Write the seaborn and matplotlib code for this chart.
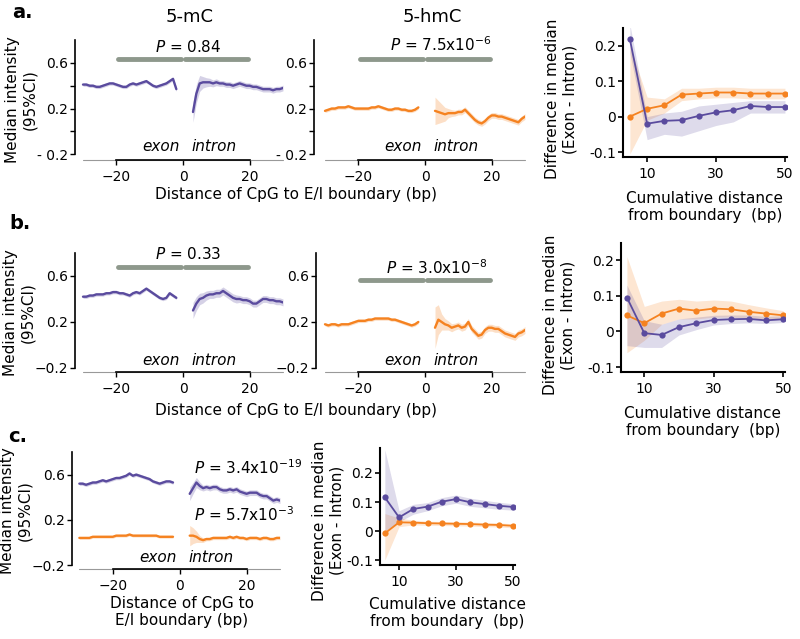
# Perfiles de 5-mC / 5-hmC alrededor de la frontera exón/intrón

import numpy as np
import matplotlib
matplotlib.use("Agg")
import matplotlib.pyplot as plt
import seaborn as sns

sns.set_style("ticks")
plt.rcParams["font.family"] = ["DejaVu Sans"]
plt.rcParams["mathtext.fontset"] = "dejavusans"
plt.rcParams["text.color"] = "black"
plt.rcParams["axes.labelcolor"] = "black"
plt.rcParams["axes.edgecolor"] = "black"
plt.rcParams["xtick.color"] = "black"
plt.rcParams["ytick.color"] = "black"

PURPLE = "#5a4b9e"
ORANGE = "#f58220"
GRAY = "#8e988c"

# Posiciones (bp)
exon_x = list(range(-30, -1))
intron_x = list(range(3, 31))
cum_x = [5, 10, 15, 20, 25, 30, 35, 40, 45, 50]

# ---- Panel a ----
a_mc_exon = [0.41, 0.41, 0.40, 0.40, 0.39, 0.39, 0.40, 0.41, 0.42, 0.42, 0.41, 0.40, 0.39, 0.39, 0.41,
             0.42, 0.41, 0.42, 0.43, 0.44, 0.42, 0.40, 0.39, 0.40, 0.41, 0.42, 0.44, 0.46, 0.37]
a_mc_exon_hw = [0.015, 0.015, 0.015, 0.015, 0.015, 0.015, 0.015, 0.015, 0.015, 0.015, 0.015, 0.015, 0.015, 0.015, 0.015,
                0.015, 0.015, 0.015, 0.015, 0.015, 0.015, 0.015, 0.015, 0.015, 0.015, 0.015, 0.015, 0.015, 0.02]
a_mc_intron = [0.17, 0.33, 0.42, 0.43, 0.43, 0.43, 0.42, 0.43, 0.42, 0.42, 0.41, 0.41, 0.40, 0.41,
               0.42, 0.41, 0.40, 0.40, 0.39, 0.39, 0.38, 0.37, 0.37, 0.37, 0.36, 0.37, 0.37, 0.38]
a_mc_intron_hw = [0.09, 0.08, 0.07, 0.05, 0.04, 0.035, 0.03, 0.03, 0.025, 0.025, 0.025, 0.025, 0.025, 0.025,
                  0.025, 0.025, 0.025, 0.025, 0.025, 0.025, 0.025, 0.025, 0.025, 0.025, 0.025, 0.025, 0.025, 0.025]
a_hmc_exon = [0.18, 0.19, 0.20, 0.20, 0.21, 0.21, 0.21, 0.22, 0.21, 0.20, 0.20, 0.20, 0.20, 0.20, 0.21,
              0.21, 0.22, 0.21, 0.20, 0.19, 0.19, 0.20, 0.20, 0.19, 0.19, 0.18, 0.18, 0.19, 0.21]
a_hmc_exon_hw = [0.015, 0.015, 0.015, 0.015, 0.015, 0.015, 0.015, 0.015, 0.015, 0.015, 0.015, 0.015, 0.015, 0.015, 0.015,
                 0.015, 0.015, 0.015, 0.015, 0.015, 0.015, 0.015, 0.015, 0.015, 0.015, 0.015, 0.015, 0.015, 0.015]
a_hmc_intron = [0.18, 0.17, 0.16, 0.15, 0.16, 0.16, 0.16, 0.17, 0.17, 0.19, 0.16, 0.13, 0.10, 0.08,
                0.07, 0.09, 0.12, 0.14, 0.14, 0.13, 0.13, 0.12, 0.11, 0.10, 0.09, 0.08, 0.11, 0.13]
a_hmc_intron_hw = [0.12, 0.10, 0.08, 0.06, 0.04, 0.03, 0.025, 0.025, 0.025, 0.025, 0.025, 0.025, 0.025, 0.025,
                   0.025, 0.025, 0.025, 0.025, 0.025, 0.025, 0.025, 0.025, 0.025, 0.025, 0.025, 0.025, 0.025, 0.025]
a_diff_mc = [0.218, -0.020, -0.012, -0.010, 0.002, 0.012, 0.018, 0.030, 0.027, 0.027]
a_diff_mc_lo = [0.180, -0.065, -0.050, -0.055, -0.040, -0.025, -0.015, 0.010, 0.010, 0.010]
a_diff_mc_hi = [0.260, 0.000, 0.010, 0.015, 0.030, 0.035, 0.040, 0.045, 0.045, 0.045]
a_diff_hmc = [0.000, 0.022, 0.032, 0.062, 0.065, 0.068, 0.068, 0.065, 0.065, 0.065]
a_diff_hmc_lo = [-0.105, -0.010, 0.010, 0.045, 0.050, 0.053, 0.053, 0.050, 0.050, 0.050]
a_diff_hmc_hi = [0.200, 0.055, 0.050, 0.080, 0.080, 0.083, 0.083, 0.080, 0.080, 0.080]

# ---- Panel b ----
b_mc_exon = [0.42, 0.42, 0.43, 0.43, 0.44, 0.44, 0.44, 0.45, 0.45, 0.46, 0.46, 0.45, 0.45, 0.44, 0.43,
             0.45, 0.46, 0.45, 0.47, 0.49, 0.47, 0.45, 0.43, 0.41, 0.40, 0.41, 0.45, 0.43, 0.41]
b_mc_exon_hw = [0.015, 0.015, 0.015, 0.015, 0.015, 0.015, 0.015, 0.015, 0.015, 0.015, 0.015, 0.015, 0.015, 0.015, 0.015,
                0.015, 0.015, 0.015, 0.015, 0.015, 0.015, 0.015, 0.015, 0.015, 0.015, 0.015, 0.015, 0.015, 0.015]
b_mc_intron = [0.30, 0.36, 0.40, 0.41, 0.43, 0.44, 0.44, 0.45, 0.45, 0.47, 0.45, 0.43, 0.41, 0.40,
               0.40, 0.39, 0.39, 0.38, 0.36, 0.36, 0.38, 0.40, 0.40, 0.39, 0.39, 0.38, 0.38, 0.37]
b_mc_intron_hw = [0.07, 0.06, 0.05, 0.045, 0.04, 0.035, 0.035, 0.035, 0.035, 0.035, 0.035, 0.035, 0.035, 0.035,
                  0.03, 0.03, 0.03, 0.03, 0.03, 0.03, 0.03, 0.03, 0.03, 0.03, 0.03, 0.03, 0.03, 0.03]
b_hmc_exon = [0.18, 0.17, 0.18, 0.18, 0.17, 0.18, 0.18, 0.18, 0.19, 0.20, 0.21, 0.21, 0.21, 0.22, 0.22,
              0.23, 0.23, 0.23, 0.23, 0.23, 0.22, 0.22, 0.21, 0.20, 0.19, 0.18, 0.17, 0.18, 0.20]
b_hmc_exon_hw = [0.015, 0.015, 0.015, 0.015, 0.015, 0.015, 0.015, 0.015, 0.015, 0.015, 0.015, 0.015, 0.015, 0.015, 0.015,
                 0.015, 0.015, 0.015, 0.015, 0.015, 0.015, 0.015, 0.015, 0.015, 0.015, 0.015, 0.015, 0.015, 0.015]
b_hmc_intron = [0.15, 0.22, 0.20, 0.18, 0.17, 0.15, 0.16, 0.17, 0.15, 0.16, 0.20, 0.14, 0.11, 0.08,
                0.09, 0.13, 0.15, 0.15, 0.14, 0.14, 0.12, 0.10, 0.09, 0.08, 0.07, 0.10, 0.11, 0.13]
b_hmc_intron_hw = [0.18, 0.13, 0.07, 0.05, 0.04, 0.035, 0.03, 0.03, 0.03, 0.03, 0.03, 0.03, 0.03, 0.03,
                   0.03, 0.03, 0.03, 0.03, 0.03, 0.03, 0.03, 0.03, 0.03, 0.03, 0.03, 0.03, 0.03, 0.03]
b_diff_mc = [0.095, -0.005, -0.010, 0.012, 0.023, 0.032, 0.034, 0.035, 0.031, 0.034]
b_diff_mc_lo = [-0.040, -0.045, -0.045, -0.010, 0.005, 0.018, 0.022, 0.024, 0.022, 0.025]
b_diff_mc_hi = [0.130, 0.030, 0.020, 0.035, 0.040, 0.045, 0.046, 0.046, 0.042, 0.044]
b_diff_hmc = [0.045, 0.023, 0.050, 0.064, 0.058, 0.064, 0.062, 0.055, 0.050, 0.045]
b_diff_hmc_lo = [-0.060, -0.025, 0.020, 0.035, 0.035, 0.040, 0.040, 0.038, 0.036, 0.035]
b_diff_hmc_hi = [0.210, 0.070, 0.085, 0.090, 0.085, 0.088, 0.085, 0.075, 0.066, 0.058]

# ---- Panel c ----
c_mc_exon = [0.52, 0.52, 0.51, 0.52, 0.53, 0.53, 0.54, 0.55, 0.54, 0.55, 0.56, 0.57, 0.57, 0.58, 0.59,
             0.61, 0.59, 0.60, 0.59, 0.58, 0.57, 0.56, 0.54, 0.53, 0.52, 0.53, 0.54, 0.54, 0.53]
c_mc_exon_hw = [0.015, 0.015, 0.015, 0.015, 0.015, 0.015, 0.015, 0.015, 0.015, 0.015, 0.015, 0.015, 0.015, 0.015, 0.015,
                0.015, 0.015, 0.015, 0.015, 0.015, 0.015, 0.015, 0.015, 0.015, 0.015, 0.015, 0.015, 0.015, 0.015]
c_mc_intron = [0.43, 0.48, 0.53, 0.50, 0.48, 0.49, 0.48, 0.49, 0.49, 0.47, 0.46, 0.46, 0.47, 0.46,
               0.47, 0.45, 0.44, 0.43, 0.44, 0.44, 0.44, 0.42, 0.41, 0.41, 0.39, 0.37, 0.38, 0.37]
c_mc_intron_hw = [0.06, 0.05, 0.045, 0.035, 0.025, 0.025, 0.025, 0.025, 0.025, 0.025, 0.025, 0.025, 0.025, 0.025,
                  0.025, 0.025, 0.025, 0.025, 0.025, 0.025, 0.025, 0.025, 0.025, 0.025, 0.025, 0.025, 0.025, 0.025]
c_hmc_exon = [0.04, 0.04, 0.04, 0.04, 0.05, 0.05, 0.05, 0.05, 0.05, 0.05, 0.05, 0.06, 0.06, 0.06, 0.06,
              0.07, 0.06, 0.06, 0.06, 0.06, 0.06, 0.06, 0.06, 0.06, 0.05, 0.05, 0.05, 0.05, 0.05]
c_hmc_exon_hw = [0.012, 0.012, 0.012, 0.012, 0.012, 0.012, 0.012, 0.012, 0.012, 0.012, 0.012, 0.012, 0.012, 0.012, 0.012,
                 0.012, 0.012, 0.012, 0.012, 0.012, 0.012, 0.012, 0.012, 0.012, 0.012, 0.012, 0.012, 0.012, 0.012]
c_hmc_intron = [0.06, 0.06, 0.05, 0.03, 0.02, 0.03, 0.03, 0.04, 0.04, 0.04, 0.04, 0.04, 0.05, 0.04,
                0.05, 0.04, 0.04, 0.03, 0.04, 0.04, 0.04, 0.03, 0.04, 0.04, 0.03, 0.03, 0.04, 0.04]
c_hmc_intron_hw = [0.09, 0.07, 0.05, 0.03, 0.02, 0.015, 0.015, 0.015, 0.015, 0.015, 0.015, 0.015, 0.015, 0.015,
                   0.015, 0.015, 0.015, 0.015, 0.015, 0.015, 0.015, 0.015, 0.015, 0.015, 0.015, 0.015, 0.015, 0.015]
c_diff_mc = [0.116, 0.047, 0.076, 0.084, 0.101, 0.110, 0.099, 0.093, 0.087, 0.083]
c_diff_mc_lo = [0.000, 0.032, 0.058, 0.070, 0.087, 0.096, 0.085, 0.080, 0.075, 0.072]
c_diff_mc_hi = [0.280, 0.070, 0.092, 0.098, 0.115, 0.124, 0.113, 0.106, 0.099, 0.094]
c_diff_hmc = [-0.008, 0.030, 0.029, 0.027, 0.026, 0.025, 0.024, 0.022, 0.021, 0.018]
c_diff_hmc_lo = [-0.100, 0.015, 0.021, 0.020, 0.019, 0.018, 0.017, 0.015, 0.014, 0.011]
c_diff_hmc_hi = [0.060, 0.045, 0.037, 0.034, 0.033, 0.032, 0.031, 0.029, 0.028, 0.025]

fig = plt.figure(figsize=(8, 6.39), dpi=100)
W, H = 800, 639


def px_axes(x0, y0, x1, y1):
    return fig.add_axes([x0 / W, 1 - y1 / H, (x1 - x0) / W, (y1 - y0) / H])


def perfil(ax, series, xlim, ylim, ylabels, ylab_x):
    for ys_e, hw_e, ys_i, hw_i, color in series:
        for xs, ys, hw in ((exon_x, ys_e, hw_e), (intron_x, ys_i, hw_i)):
            ys = np.array(ys)
            hw = np.array(hw)
            ax.fill_between(xs, ys - hw, ys + hw, color=color, alpha=0.25, lw=0)
            sns.lineplot(x=xs, y=ys, ax=ax, color=color, lw=1.7)
    ax.set_xlim(*xlim)
    ax.set_ylim(*ylim)
    sns.despine(ax=ax)
    ax.spines["left"].set_bounds(-0.2, 0.8)
    ax.spines["bottom"].set_bounds(-20, 20)
    ax.spines["left"].set_linewidth(1.2)
    ax.spines["bottom"].set_linewidth(1.2)
    ax.plot([-30, 30], [ylim[0], ylim[0]], color="0.6", lw=0.8, clip_on=False)
    ax.set_xticks([-20, 0, 20])
    ax.set_xticklabels(["\u221220", "0", "20"])
    ticks, labels = ylabels
    ax.set_yticks(ticks)
    ax.set_yticklabels(labels)
    ax.tick_params(labelsize=10, length=3.5, width=1)
    ax.tick_params(axis="y", pad=1.5)
    ax.text(-6.5, -0.175, "exon", style="italic", fontsize=11, ha="center", va="baseline")
    ax.text(9.3, -0.175, "intron", style="italic", fontsize=11, ha="center", va="baseline")
    if ylab_x is not None:
        ax.set_ylabel("Median intensity\n(95%CI)", fontsize=11)
        ax.yaxis.set_label_coords(ylab_x, 0.5)
    else:
        ax.set_ylabel("")


def diferencia(ax, mc, mc_lo, mc_hi, hmc, hmc_lo, hmc_hi, xlim, ylim, ylab_x, ylab_y, xlab_y):
    ax.fill_between(cum_x, hmc_lo, hmc_hi, color=ORANGE, alpha=0.2, lw=0)
    ax.fill_between(cum_x, mc_lo, mc_hi, color=PURPLE, alpha=0.2, lw=0)
    sns.lineplot(x=cum_x, y=hmc, ax=ax, color=ORANGE, lw=1.3, marker="o", markersize=4.5, markeredgewidth=0)
    sns.lineplot(x=cum_x, y=mc, ax=ax, color=PURPLE, lw=1.3, marker="o", markersize=4.5, markeredgewidth=0)
    ax.set_xlim(*xlim)
    ax.set_ylim(*ylim)
    sns.despine(ax=ax)
    ax.spines["left"].set_linewidth(1.5)
    ax.spines["bottom"].set_linewidth(1.5)
    ax.set_xticks([10, 30, 50])
    ax.set_yticks([-0.1, 0, 0.1, 0.2])
    ax.set_yticklabels(["-0.1", "0", "0.1", "0.2"])
    ax.tick_params(labelsize=10, length=3.5, width=1.2)
    ax.tick_params(axis="y", pad=1.5)
    ax.set_ylabel("Difference in median\n(Exon - Intron)", fontsize=11)
    ax.yaxis.set_label_coords(ylab_x, ylab_y)
    ax.set_xlabel("Cumulative distance\nfrom boundary  (bp)", fontsize=11)
    ax.xaxis.set_label_coords(0.5, xlab_y)


def barras(ax, y):
    for x0, x1 in ((-19.4, -0.6), (0.6, 19.4)):
        ax.plot([x0, x1], [y, y], color=GRAY, lw=3.5, solid_capstyle="round")


ticks_a = ([-0.2, 0, 0.2, 0.4, 0.6], ["- 0.2", "", "0.2", "", "0.6"])
ticks_bc = ([-0.2, 0.2, 0.6], ["\u22120.2", "0.2", "0.6"])

# Fila a
ax_a1 = px_axes(75, 40, 283, 160)
perfil(ax_a1, [(a_mc_exon, a_mc_exon_hw, a_mc_intron, a_mc_intron_hw, PURPLE)],
       (-32.4, 30), (-0.25, 0.8), ticks_a, -0.18)
barras(ax_a1, 0.635)
ax_a1.text(1.5, 0.736, "$P$ = 0.84", fontsize=11, ha="center", va="center")

ax_a2 = px_axes(314, 40, 525, 160)
perfil(ax_a2, [(a_hmc_exon, a_hmc_exon_hw, a_hmc_intron, a_hmc_intron_hw, ORANGE)],
       (-33.3, 30), (-0.25, 0.8), ticks_a, None)
barras(ax_a2, 0.635)
ax_a2.text(4.8, 0.758, "$P$ = 7.5x10$^{-6}$", fontsize=11, ha="center", va="center")

ax_a3 = px_axes(623, 28, 787, 157)
diferencia(ax_a3, a_diff_mc, a_diff_mc_lo, a_diff_mc_hi, a_diff_hmc, a_diff_hmc_lo, a_diff_hmc_hi,
           (3.0, 50.6), (-0.114, 0.25), -0.28, 0.45, -0.26)

# Fila b
ax_b1 = px_axes(75, 253, 283, 372)
perfil(ax_b1, [(b_mc_exon, b_mc_exon_hw, b_mc_intron, b_mc_intron_hw, PURPLE)],
       (-32.4, 30), (-0.235, 0.8), ticks_bc, -0.19)
barras(ax_b1, 0.68)
ax_b1.text(1.5, 0.787, "$P$ = 0.33", fontsize=11, ha="center", va="center")

ax_b2 = px_axes(316, 253, 525, 372)
perfil(ax_b2, [(b_hmc_exon, b_hmc_exon_hw, b_hmc_intron, b_hmc_intron_hw, ORANGE)],
       (-32.7, 30), (-0.235, 0.8), ticks_bc, None)
barras(ax_b2, 0.565)
ax_b2.text(3.6, 0.67, "$P$ = 3.0x10$^{-8}$", fontsize=11, ha="center", va="center")

ax_b3 = px_axes(621, 243, 785, 372)
diferencia(ax_b3, b_diff_mc, b_diff_mc_lo, b_diff_mc_hi, b_diff_hmc, b_diff_hmc_lo, b_diff_hmc_hi,
           (3.3, 50.5), (-0.114, 0.248), -0.28, 0.44, -0.26)

# Fila c
ax_c1 = px_axes(72, 452, 280, 569)
perfil(ax_c1, [(c_mc_exon, c_mc_exon_hw, c_mc_intron, c_mc_intron_hw, PURPLE),
               (c_hmc_exon, c_hmc_exon_hw, c_hmc_intron, c_hmc_intron_hw, ORANGE)],
       (-32.2, 30), (-0.235, 0.8), ticks_bc, -0.19)
ax_c1.text(4.3, 0.66, "$P$ = 3.4x10$^{-19}$", fontsize=11, ha="left", va="center")
ax_c1.text(4.3, 0.25, "$P$ = 5.7x10$^{-3}$", fontsize=11, ha="left", va="center")

ax_c2 = px_axes(380, 448, 515, 565)
diferencia(ax_c2, c_diff_mc, c_diff_mc_lo, c_diff_mc_hi, c_diff_hmc, c_diff_hmc_lo, c_diff_hmc_hi,
           (3.3, 50.7), (-0.117, 0.286), -0.26, 0.38, -0.27)

# Títulos y etiquetas comunes
fig.text(22 / W, 1 - 13 / H, "a.", fontsize=14, fontweight="bold", ha="center", va="center")
fig.text(20 / W, 1 - 224 / H, "b.", fontsize=14, fontweight="bold", ha="center", va="center")
fig.text(18 / W, 1 - 436 / H, "c.", fontsize=14, fontweight="bold", ha="center", va="center")
fig.text(190 / W, 1 - 17 / H, "5-mC", fontsize=13, ha="center", va="center")
fig.text(432 / W, 1 - 17 / H, "5-hmC", fontsize=13, ha="center", va="center")
fig.text(296 / W, 1 - 195 / H, "Distance of CpG to E/I boundary (bp)", fontsize=11, ha="center", va="center")
fig.text(296 / W, 1 - 410 / H, "Distance of CpG to E/I boundary (bp)", fontsize=11, ha="center", va="center")
fig.text(182 / W, 1 - 612 / H, "Distance of CpG to\nE/I boundary (bp)", fontsize=11, ha="center", va="center")

fig.savefig("out.png", dpi=100)
